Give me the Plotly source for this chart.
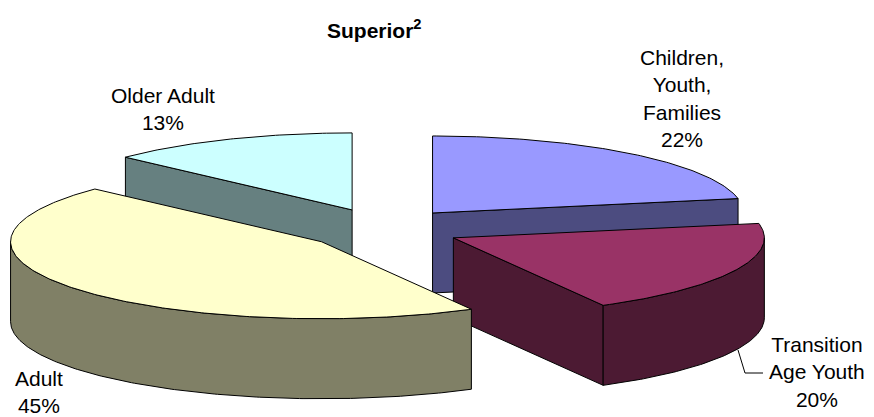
import numpy as np
import plotly.graph_objects as go

# ---- data -------------------------------------------------------------
categories = ["Children, Youth, Families", "Transition Age Youth", "Adult", "Older Adult"]
values = [22, 20, 45, 13]
label_lines = [["Children,", "Youth,", "Families"], ["Transition", "Age Youth"], ["Adult"], ["Older Adult"]]
top_colors = ["#9999FF", "#993366", "#FFFFCC", "#CCFFFF"]
title_text = "Superior<sup>2</sup>"

# ---- 3-D pie geometry (pixel space of the page) -----------------------
W, H = 874, 417
CX, CY = 383, 229          # centre of the top face
RX, RY = 311, 77           # ellipse radii of the top face
DEPTH = 80                 # thickness of the pie
EXPLODE = (0.25, 0.27)     # explosion as a fraction of RX / RY
FONT = "Liberation Sans, Arial, sans-serif"

# label placement (centre of each text block) and its font size
label_pos = [(682, 98), (817, 372), (39, 392), (163, 109)]
LABEL_SIZE = 21


def darker(hex_color, f=0.5):
    r, g, b = (int(hex_color[i:i + 2], 16) for i in (1, 3, 5))
    return "#%02X%02X%02X" % (round(r * f), round(g * f), round(b * f))


def rim(ax, ay, theta_deg, dz=0.0):
    t = np.radians(theta_deg)
    return ax + RX * np.sin(t), ay - RY * np.cos(t) + dz


def arc(ax, ay, a0, a1, dz=0.0, n=None):
    n = n or max(2, int(abs(a1 - a0) * 1.5))
    th = np.linspace(a0, a1, n)
    xs, ys = rim(ax, ay, th, dz)
    return list(xs), list(ys)


fig = go.Figure()


def poly(xs, ys, color):
    fig.add_trace(go.Scatter(
        x=list(xs) + [xs[0]], y=list(ys) + [ys[0]],
        mode="lines", fill="toself", fillcolor=color,
        line=dict(color="#000000", width=1),
        hoverinfo="skip", showlegend=False,
    ))


total = float(sum(values))
starts = np.concatenate([[0], np.cumsum(values)[:-1]]) / total * 360.0
ends = np.cumsum(values) / total * 360.0

slices = []
for i, (a0, a1) in enumerate(zip(starts, ends)):
    mid = np.radians((a0 + a1) / 2)
    ax = CX + EXPLODE[0] * RX * np.sin(mid)
    ay = CY - EXPLODE[1] * RY * np.cos(mid)
    slices.append((np.cos(mid), i, a0, a1, ax, ay))

# paint from back (top of the ellipse) to front
for _, i, a0, a1, ax, ay in sorted(slices, key=lambda s: -s[0]):
    side = darker(top_colors[i])
    # radial cut faces that turn towards the viewer
    for ang, visible in ((a0, np.sin(np.radians(a0)) < -1e-6),
                         (a1, np.sin(np.radians(a1)) > 1e-6)):
        if visible:
            rx0, ry0 = rim(ax, ay, ang)
            poly([ax, rx0, rx0, ax], [ay, ry0, ry0 + DEPTH, ay + DEPTH], side)
    # curved outer wall on the front half
    w0, w1 = max(a0, 90.0), min(a1, 270.0)
    if w1 > w0:
        tx, ty = arc(ax, ay, w0, w1)
        bx, by = arc(ax, ay, w1, w0, DEPTH)
        poly(tx + bx, ty + by, side)
    # top face
    tx, ty = arc(ax, ay, a0, a1)
    poly([ax] + tx, [ay] + ty, top_colors[i])

# ---- labels -----------------------------------------------------------
for i, v in enumerate(values):
    pct = round(v / total * 100)
    text = "<br>".join(label_lines[i] + [f"{pct}%"])
    fig.add_annotation(x=label_pos[i][0], y=label_pos[i][1], text=text,
                       showarrow=False, xanchor="center", yanchor="middle",
                       align="center",
                       font=dict(family=FONT, size=LABEL_SIZE, color="#000000"))

# leader line for the Transition Age Youth label
fig.add_shape(type="path", path="M 738 350 L 745 373 L 763 373",
              line=dict(color="#000000", width=1), xref="x", yref="y")

fig.add_annotation(x=374, y=29, text=f"<b>{title_text}</b>", showarrow=False,
                   xanchor="center", yanchor="middle",
                   font=dict(family=FONT, size=21, color="#000000"))

fig.update_xaxes(range=[0, W], visible=False, fixedrange=True)
fig.update_yaxes(range=[H, 0], visible=False, fixedrange=True)
fig.update_layout(width=W, height=H, autosize=False,
                  margin=dict(l=0, r=0, t=0, b=0, pad=0),
                  paper_bgcolor="#FFFFFF", plot_bgcolor="#FFFFFF")

fig.write_html("out.html", config={"displayModeBar": False})
